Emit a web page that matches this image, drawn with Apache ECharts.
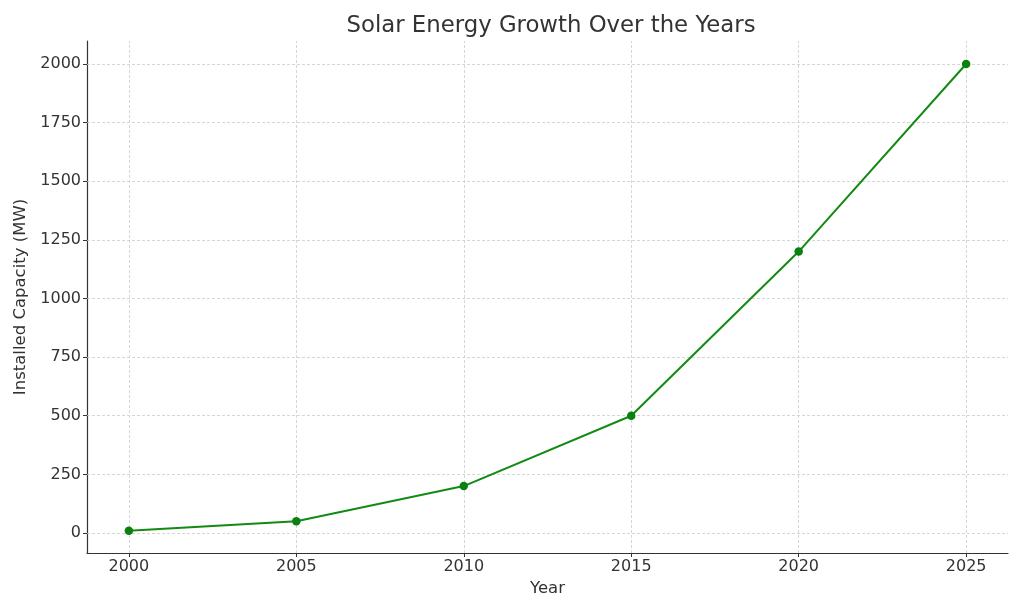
<!DOCTYPE html>
<html>
<head>
<meta charset="utf-8">
<script src="https://cdn.jsdelivr.net/npm/echarts@6/dist/echarts.min.js"></script>
<style>html,body{margin:0;padding:0;background:#fff;}#c{width:1024px;height:614px;}</style>
</head>
<body>
<div id="c"></div>
<script>
const years = [2000, 2005, 2010, 2015, 2020, 2025];
const capacity = [10, 50, 200, 500, 1200, 2000];
const xTicks = [2000, 2005, 2010, 2015, 2020, 2025];
const yTicks = [0, 250, 500, 750, 1000, 1250, 1500, 1750, 2000];

const font = 'DejaVu Sans';
const textColor = '#333333';
const chart = echarts.init(document.getElementById('c'), null, {renderer: 'canvas'});
const gridLine = {type: [3, 2], color: '#cccccc', width: 0.8};

chart.setOption({
  animation: false,
  backgroundColor: '#ffffff',
  title: {
    text: 'Solar Energy Growth Over the Years',
    left: 546, top: 10, textAlign: 'center',
    textStyle: {fontFamily: font, fontSize: 22.8, fontWeight: 'normal', color: textColor}
  },
  grid: {left: 87, right: 16, top: 41, bottom: 61, containLabel: false},
  xAxis: {
    type: 'value', min: 1998.75, max: 2026.25,
    name: 'Year', nameLocation: 'middle', nameGap: 27,
    nameTextStyle: {fontFamily: font, fontSize: 16.5, color: textColor},
    axisLine: {show: true, onZero: false, lineStyle: {color: '#333', width: 1.2}},
    axisTick: {show: true, inside: false, length: 4, customValues: xTicks, lineStyle: {color: '#333'}},
    axisLabel: {customValues: xTicks, fontFamily: font, fontSize: 16, color: textColor, margin: 6, formatter: v => String(v)},
    splitLine: {show: false}
  },
  yAxis: {
    type: 'value', min: -85.3, max: 2098,
    name: 'Installed Capacity (MW)', nameLocation: 'middle', nameGap: 55,
    nameTextStyle: {fontFamily: font, fontSize: 16.5, color: textColor},
    axisLine: {show: true, onZero: false, lineStyle: {color: '#333', width: 1.2}},
    axisTick: {show: true, inside: false, length: 4, customValues: yTicks, lineStyle: {color: '#333'}},
    axisLabel: {customValues: yTicks, fontFamily: font, fontSize: 16, color: textColor, margin: 6, formatter: v => String(v)},
    splitLine: {show: false}
  },
  series: [
    {
      type: 'line',
      data: years.map((y, i) => [y, capacity[i]]),
      symbol: 'circle', symbolSize: 8.5,
      lineStyle: {color: '#138a13', width: 2},
      itemStyle: {color: '#0a8010'},
      z: 3,
      markLine: {
        silent: true, symbol: 'none', label: {show: false},
        lineStyle: gridLine,
        z: 1,
        data: yTicks.map(v => ({yAxis: v})).concat(xTicks.map(v => ({xAxis: v})))
      }
    }
  ]
});
</script>
</body>
</html>
